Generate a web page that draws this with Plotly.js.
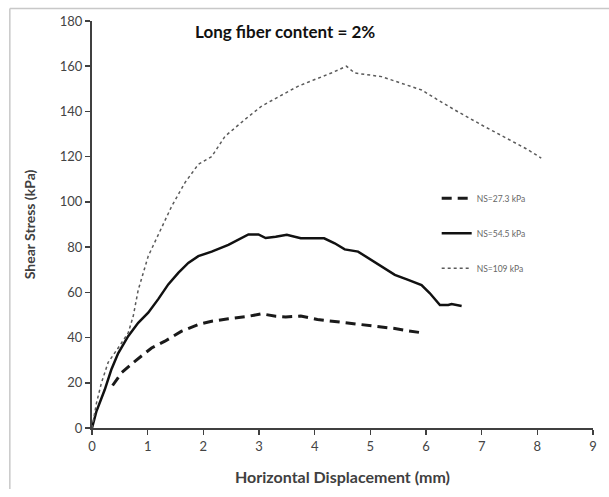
<!DOCTYPE html>
<html>
<head>
<meta charset="utf-8">
<script src="https://cdn.plot.ly/plotly-3.0.1.min.js"></script>
<style>html,body{margin:0;padding:0;background:#fff;}#chart{width:609px;height:497px;}</style>
</head>
<body>
<div id="chart"></div>
<script>
// NS = 27.3 kPa (dashed)
const x27 = [0.37, 0.53, 0.77, 1.07, 1.31, 1.61, 1.91, 2.15, 2.45, 2.81, 3.05, 3.3, 3.48, 3.75, 4.05, 4.42, 4.78, 5.08, 5.44, 5.68, 5.98];
const y27 = [18.8, 24.4, 29.5, 35.4, 38.4, 42.8, 45.8, 47.2, 48.3, 49.4, 50.5, 49.4, 49.1, 49.5, 48.0, 47.0, 46.0, 45.0, 44.0, 43.0, 41.9];
// NS = 54.5 kPa (solid)
const x54 = [0, 0.08, 0.23, 0.35, 0.47, 0.65, 0.83, 1.01, 1.19, 1.37, 1.55, 1.73, 1.91, 2.15, 2.45, 2.81, 2.99, 3.12, 3.3, 3.5, 3.75, 4.17, 4.36, 4.54, 4.78, 5.02, 5.2, 5.44, 5.68, 5.92, 6.07, 6.25, 6.4, 6.46, 6.64];
const y54 = [0, 7.4, 17, 26, 33, 40.6, 46.5, 51, 57, 63.5, 68.6, 73, 76, 78, 81, 85.6, 85.6, 84, 84.6, 85.5, 83.9, 83.9, 81.7, 79, 78, 74.3, 71.3, 67.7, 65.5, 63.2, 59.6, 54.4, 54.4, 54.8, 54];
// NS = 109 kPa (dotted)
const x109 = [0, 0.08, 0.17, 0.29, 0.47, 0.65, 0.74, 0.83, 1.01, 1.25, 1.43, 1.67, 1.91, 2.15, 2.39, 2.75, 3.05, 3.39, 3.69, 3.99, 4.3, 4.57, 4.72, 5.2, 5.5, 5.92, 6.22, 6.52, 7.0, 7.45, 7.8, 8.07];
const y109 = [0, 11, 20, 29, 35.4, 42, 49.4, 61, 76, 89, 98, 108.5, 116.6, 120, 129, 136.5, 142.4, 147, 151, 154, 157, 160, 157, 155.4, 153, 149.5, 145, 140.6, 134, 128, 123.5, 119.4];

const names = ["NS=27.3 kPa", "NS=54.5 kPa", "NS=109 kPa"];
const xTicks = [0,1,2,3,4,5,6,7,8,9];
const yTicks = [0,20,40,60,80,100,120,140,160,180];

const traces = [
  {x: x27, y: y27, name: names[0], mode: 'lines', legendgroup: 'a',
   line: {color: '#1a1a1a', width: 3, dash: '10px,6px'}},
  {x: x54, y: y54, name: names[1], mode: 'lines', legendgroup: 'b',
   line: {color: '#111111', width: 2.5}},
  {x: x109, y: y109, name: names[2], mode: 'lines', legendgroup: 'c',
   line: {color: '#5a5a5a', width: 1.5, dash: 'dot'}}
];

const fam = 'Lato, "Open Sans", sans-serif';
const layout = {
  width: 609, height: 497,
  margin: {l: 92, r: 16, t: 21, b: 69},
  paper_bgcolor: '#ffffff', plot_bgcolor: '#ffffff',
  showlegend: true,
  legend: {x: 0.688, y: 0.6, xanchor: 'left', yanchor: 'top',
    font: {family: fam, size: 8.5, color: '#666666'},
    bgcolor: 'rgba(0,0,0,0)', tracegroupgap: 16, traceorder: 'grouped', itemwidth: 30},
  xaxis: {range: [0, 9], tickvals: xTicks, ticktext: xTicks.map(String),
    showgrid: false, zeroline: false, showline: true, linecolor: '#404040', linewidth: 2,
    ticks: 'outside', ticklen: 5, tickwidth: 1.5, tickcolor: '#404040',
    tickfont: {family: fam, size: 13, color: '#444444'}, fixedrange: true,
    title: {text: '<b>Horizontal Displacement (mm)</b>', standoff: 19,
      font: {family: fam, size: 16, color: '#404040'}}},
  yaxis: {range: [0, 180], tickvals: yTicks, ticktext: yTicks.map(String),
    showgrid: false, zeroline: false, showline: true, linecolor: '#404040', linewidth: 2,
    ticks: 'outside', ticklen: 5, tickwidth: 1.5, tickcolor: '#404040',
    tickfont: {family: fam, size: 13, color: '#444444'}, fixedrange: true,
    title: {text: '<b>Shear Stress (kPa)</b>', standoff: 21,
      font: {family: fam, size: 14, color: '#404040'}}},
  annotations: [{text: '<b>Long fiber content = 2%</b>', xref: 'paper', yref: 'paper',
    x: 0.385, y: 0.975, xanchor: 'center', yanchor: 'middle', showarrow: false,
    font: {family: fam, size: 17, color: '#111111'}}],
  shapes: [
    {type: 'line', xref: 'paper', yref: 'paper', x0: -0.164, x1: 1.04, y0: 1.031, y1: 1.031,
     line: {color: '#c8c8c8', width: 1.5}},
    {type: 'line', xref: 'paper', yref: 'paper', x0: -0.164, x1: -0.164, y0: 1.031, y1: -0.15,
     line: {color: '#c8c8c8', width: 1.5}}
  ]
};

Plotly.newPlot('chart', traces, layout, {displayModeBar: false, staticPlot: true});
</script>
</body>
</html>
